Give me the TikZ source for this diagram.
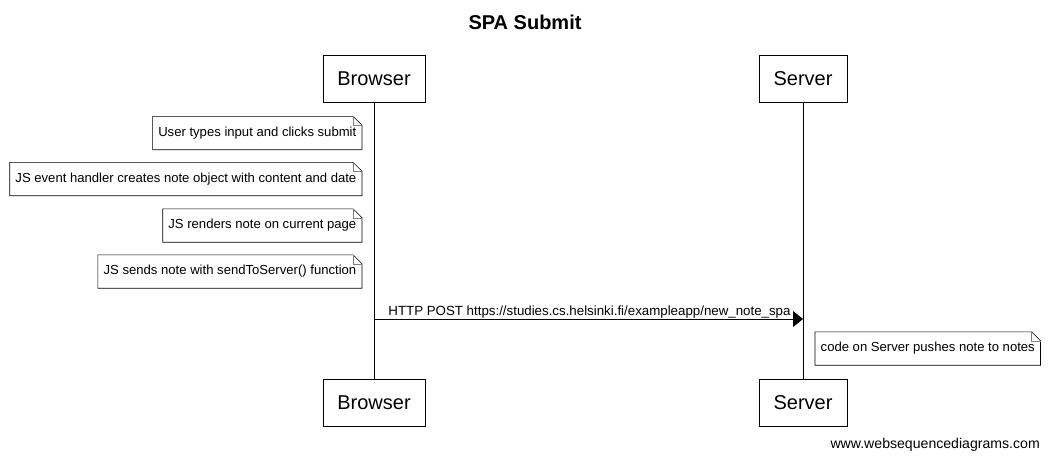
\documentclass[tikz,border=0pt]{standalone}
\usepackage{fontspec}
\setmainfont{Liberation Sans}
\usetikzlibrary{arrows.meta}
\tikzset{
  actor/.style={draw, line width=0.8pt, minimum width=102pt, minimum height=47pt, inner sep=0pt, font=\fontsize{20}{24}\selectfont},
  notebox/.style={minimum height=33pt, inner xsep=5.5pt, inner ysep=0pt, font=\fontsize{13.1}{15}\selectfont},
  life/.style={line width=0.8pt},
  msg/.style={line width=0.8pt, -{Triangle[length=10pt,width=16pt]}},
}
\newcommand{\notefold}[1]{%
  \draw[line width=0.6pt] (#1.north west) -- ([xshift=-9pt]#1.north east) -- ([yshift=-9pt]#1.north east) -- (#1.south east) -- (#1.south west) -- cycle;
  \draw[line width=0.5pt, gray] ([xshift=-9pt]#1.north east) -- ([xshift=-9pt,yshift=-9pt]#1.north east) -- ([yshift=-9pt]#1.north east);
}
\begin{document}
\begin{tikzpicture}[x=1pt,y=-1pt]
\useasboundingbox (0,0) rectangle (1049,461);
\node[font=\bfseries\fontsize{20}{24}\selectfont] (title) at (525,22) {SPA Submit};
\node[actor] (btop) at (374,78.5) {Browser};
\node[actor, minimum width=88pt] (stop) at (803,78.5) {Server};
\node[actor] (bbot) at (374,402.5) {Browser};
\node[actor, minimum width=88pt] (sbot) at (803,402.5) {Server};
\draw[life] (btop.south) -- (bbot.north);
\draw[life] (stop.south) -- (sbot.north);
\node[notebox, anchor=east] (n1) at (362,133) {User types input and clicks submit};
\node[notebox, anchor=east] (n2) at (362,179) {JS event handler creates note object with content and date};
\node[notebox, anchor=east] (n3) at (362,225.5) {JS renders note on current page};
\node[notebox, anchor=east] (n4) at (362,271.5) {JS sends note with sendToServer() function};
\notefold{n1}\notefold{n2}\notefold{n3}\notefold{n4}
\coordinate (a1) at (374,319);
\coordinate (a2) at (803,319);
\draw[msg] (a1) -- (a2) node[pos=0, anchor=south west, xshift=13pt, yshift=-1pt, font=\fontsize{13.3}{15}\selectfont, inner sep=1pt] (m1) {HTTP POST https://studies.cs.helsinki.fi/exampleapp/new\_note\_spa};
\node[notebox, anchor=west] (n5) at (815,348.5) {code on Server pushes note to notes};
\notefold{n5}
\node[anchor=south east, inner sep=0pt, font=\fontsize{14.1}{16}\selectfont] (wm) at (1040,452) {www.websequencediagrams.com};
\end{tikzpicture}
\end{document}
